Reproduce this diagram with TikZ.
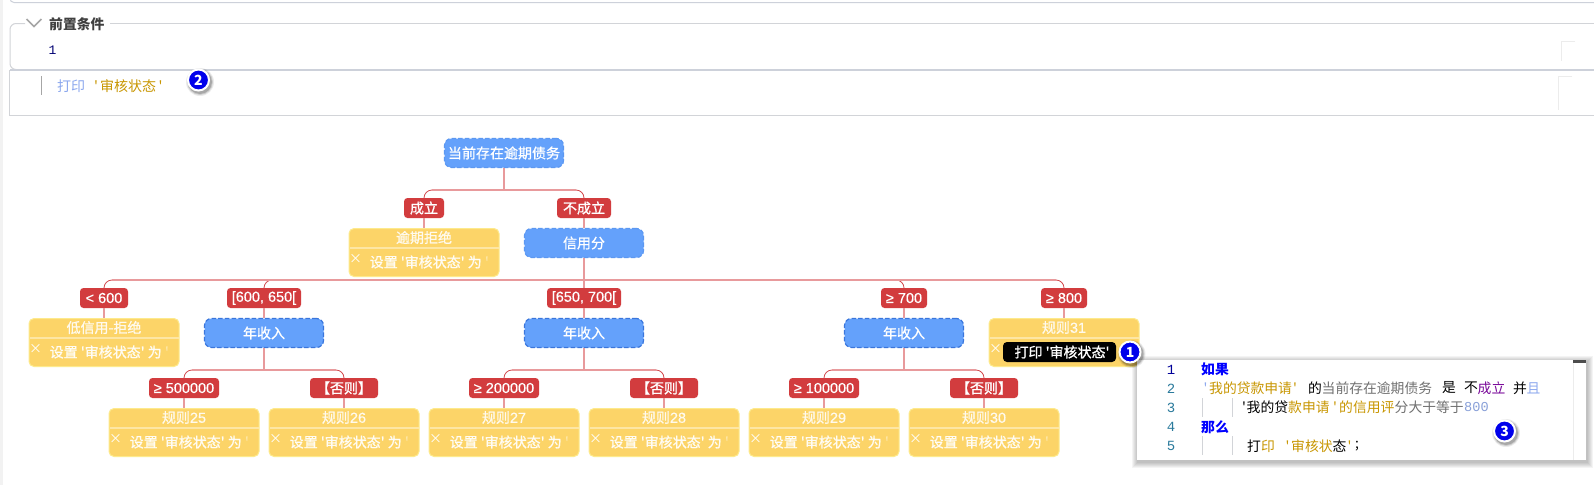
\documentclass[tikz,border=0pt]{standalone}
\usepackage{fontspec}
\newfontfamily\cjk{Noto Sans CJK SC}
\newfontfamily\cjkm{Noto Sans CJK SC}[FakeBold=0.9]
\newfontfamily\latm{Liberation Sans}[FakeBold=0.4]
\newfontfamily\monof{Liberation Mono}
\usetikzlibrary{calc}
\definecolor{busc}{HTML}{E89A9C}
\definecolor{arcc}{HTML}{D2474B}
\definecolor{labc}{HTML}{D23C3E}
\definecolor{bluef}{HTML}{64A1FB}
\definecolor{condA}{HTML}{5C98F2}
\definecolor{condB}{HTML}{3A76DC}
\definecolor{yelf}{HTML}{FCD468}
\definecolor{yeld}{HTML}{FDEA8C}
\definecolor{yeldiv}{HTML}{FDE6A4}
\definecolor{paneline}{HTML}{D2D4D8}
\definecolor{thickline}{HTML}{CDD1DA}
\definecolor{gold}{HTML}{C89600}
\definecolor{lblue}{HTML}{8CA8EE}
\definecolor{graytx}{HTML}{707070}
\definecolor{purp}{HTML}{7A0A9A}
\definecolor{numc}{HTML}{2A7A9C}
\newcommand{\LL}[1]{{\latm\fontsize{14.5}{16}\selectfont #1}}
\tikzset{
  every node/.style={font=\cjkm\fontsize{14}{16}\selectfont},
  cond/.style={rectangle,rounded corners=7pt,fill=bluef,draw=#1,line width=1.2pt,dash pattern=on 4.5pt off 2.2pt,
    minimum width=119pt,minimum height=29pt,inner sep=0pt,text=white},
  cond/.default=condA,
  edgelab/.style={rectangle,rounded corners=3.5pt,fill=labc,text=white,minimum height=20pt,inner sep=0pt},
  rulebox/.style={rectangle,rounded corners=5pt,fill=yelf,draw=yeld,line width=1pt,minimum width=150pt,minimum height=48pt,inner sep=0pt},
  ruletitle/.style={text=white!88!yelf,inner sep=0pt},
  ruleact/.style={text=white!92!yelf,inner sep=0pt,anchor=west},
  cross/.style={text=white,inner sep=0pt,font=\cjk\fontsize{13}{14}\selectfont},
  busline/.style={draw=busc,line width=1.5pt},
  arcline/.style={draw=arcc,line width=.8pt,rounded corners=8pt},
  badge/.style={circle,fill=blue!92!black,draw=white,line width=2pt,minimum size=21pt,inner sep=0pt,text=white,font=\cjk\bfseries\fontsize{14}{16}\selectfont},
  code/.style={anchor=west,inner sep=0pt,font=\cjk\fontsize{13.8}{15}\selectfont},
  codek/.style={anchor=west,inner sep=0pt,text=blue,font=\cjk\bfseries\fontsize{13.8}{15}\selectfont},
  lnum/.style={anchor=center,inner sep=0pt,text=numc,font=\monof\fontsize{14}{15}\selectfont},
  guide/.style={draw=paneline,line width=.8pt},
}
\newcommand{\acttext}{设置 '审核状态' 为 \textcolor{yeldiv}{'}}
% name, centre x, top y, title, action
\newcommand{\rulenode}[5]{%
  \node[rulebox,anchor=north] (#1) at (#2,#3) {};
  \draw[yeldiv,line width=1.4pt] ($(#1.north west)+(1,20)$) -- ($(#1.north east)+(-1,20)$);
  \node[ruletitle] (#1t) at ($(#1.north)+(0,9.5)$) {#4};
  \node[cross] (#1x) at ($(#1.north west)+(7,31)$) {×};
  \ifx\relax#5\relax\else\node[ruleact] (#1a) at ($(#1.north west)+(21,34)$) {#5};\fi
}
\newcommand{\arcto}[2]{%
  \draw[arcline] (#1) -| (#2.north);
}
\newcommand{\shadowcirc}[1]{%
  \foreach \r/\o in {14/.08,13/.12,12/.18}{\fill[black,opacity=\o] ($(#1)+(1.5,2)$) circle (\r pt);}
}
\begin{document}
\begin{tikzpicture}[x=1pt,y=-1pt]
\useasboundingbox (0,0) rectangle (1594,485);
\fill[white] (0,0) rectangle (1594,485);
% page furniture
\fill[gray!10] (0,0) rectangle (3,485);
\draw[thickline,line width=1pt,rounded corners=4pt] (10,-3) -- (10,2.5) -- (1594,2.5);
% first panel
\draw[paneline,line width=1pt,rounded corners=6pt] (25,23.5) -- (10,23.5) -- (10,69.5) -- (30,69.5);
\draw[paneline,line width=1pt] (110,23.5) -- (1594,23.5);
\draw[gray!70,line width=1.5pt] (26.5,19) -- (34,26.5) -- (41.5,19);
\node[anchor=west,inner sep=0pt,text=black!75,font=\cjk\bfseries\fontsize{13.8}{15}\selectfont] (hdr) at (49,24) {前置条件};
\node[inner sep=0pt,text=blue!45!black,font=\monof\fontsize{13}{15}\selectfont] (n1) at (52.5,50.5) {1};
\fill[thickline] (10,69) rectangle (1594,71);
\draw[paneline,line width=.8pt] (9.5,70) -- (9.5,115.5) -- (1594,115.5);
\draw[gray!70,line width=1pt] (41,76) -- (41,95);
\node[anchor=west,inner sep=0pt,text=lblue,font=\cjk\fontsize{14}{16}\selectfont] (p1) at (57,86) {打印};
\node[anchor=west,inner sep=0pt,text=gold,font=\cjk\fontsize{14}{16}\selectfont] (p2a) at (94,86) {'};
\node[anchor=west,inner sep=0pt,text=gold,font=\cjk\fontsize{14}{16}\selectfont] (p2b) at (100,86) {审核状态};
\node[anchor=west,inner sep=0pt,text=gold,font=\cjk\fontsize{14}{16}\selectfont] (p2c) at (158.5,86) {'};
\draw[gray!15,line width=1pt] (1575,41.5) -- (1561.5,41.5) -- (1561.5,61);
\draw[gray!15,line width=1pt] (1572,76.5) -- (1558.5,76.5) -- (1558.5,110);
% tree: nodes
\node[cond=condA] (root) at (504,153) {当前存在逾期债务};
\node[edgelab,minimum width=40pt] (l1) at (424,208) {成立};
\node[edgelab,minimum width=54pt] (l2) at (584,208) {不成立};
\rulenode{r0}{424}{228}{逾期拒绝}{\acttext}
\node[cond=condA] (cs) at (584,243) {信用分};
\node[edgelab,minimum width=48pt] (a1) at (104,298) {\LL{< 600}};
\node[edgelab,minimum width=74pt] (a2) at (264,298) {\LL{[600, 650[}};
\node[edgelab,minimum width=74pt] (a3) at (584,298) {\LL{[650, 700[}};
\node[edgelab,minimum width=46pt] (a4) at (904,298) {\LL{≥ 700}};
\node[edgelab,minimum width=46pt] (a5) at (1064,298) {\LL{≥ 800}};
\rulenode{rl}{104}{318}{低信用-拒绝}{\acttext}
\node[cond=condB] (y1) at (264,333) {年收入};
\node[cond=condB] (y2) at (584,333) {年收入};
\node[cond=condB] (y3) at (904,333) {年收入};
\rulenode{r31}{1064}{318}{规则\LL{31}}{}
\node[rectangle,rounded corners=4pt,fill=black,text=white,minimum width=113pt,minimum height=20pt,inner sep=0pt] (pill) at (1059.5,352) {\hspace*{5pt}打印 '审核状态'};
\node[edgelab,minimum width=70pt] (b1) at (184,388) {\LL{≥ 500000}};
\node[edgelab,minimum width=68pt] (b2) at (344,388) {【否则】};
\node[edgelab,minimum width=70pt] (b3) at (504,388) {\LL{≥ 200000}};
\node[edgelab,minimum width=68pt] (b4) at (664,388) {【否则】};
\node[edgelab,minimum width=70pt] (b5) at (824,388) {\LL{≥ 100000}};
\node[edgelab,minimum width=68pt] (b6) at (984,388) {【否则】};
\rulenode{r25}{184}{408}{规则\LL{25}}{\acttext}
\rulenode{r26}{344}{408}{规则\LL{26}}{\acttext}
\rulenode{r27}{504}{408}{规则\LL{27}}{\acttext}
\rulenode{r28}{664}{408}{规则\LL{28}}{\acttext}
\rulenode{r29}{824}{408}{规则\LL{29}}{\acttext}
\rulenode{r30}{984}{408}{规则\LL{30}}{\acttext}
% junctions
\coordinate (j0) at (504,190);
\coordinate (j1) at (584,280);
\coordinate (j2) at (264,370);
\coordinate (j3) at (584,370);
\coordinate (j4) at (904,370);
% arcs
\arcto{j0}{l1}\arcto{j0}{l2}
\arcto{j1}{a1}\arcto{j1}{a2}\arcto{j1}{a4}\arcto{j1}{a5}
\arcto{j2}{b1}\arcto{j2}{b2}
\arcto{j3}{b3}\arcto{j3}{b4}
\arcto{j4}{b5}\arcto{j4}{b6}
% trunks and buses
\draw[busline] (root.south) -- (j0);
\draw[busline] ($(l1.north|-j0)+(8,0)$) -- ($(l2.north|-j0)+(-8,0)$);
\draw[busline] (l1.south) -- (r0.north);
\draw[busline] (l2.south) -- (cs.north);
\draw[busline] (cs.south) -- (a3.north);
\draw[busline] ($(a1.north|-j1)+(8,0)$) -- ($(a5.north|-j1)+(-8,0)$);
\draw[busline] (a1.south) -- (rl.north);
\draw[busline] (a2.south) -- (y1.north);
\draw[busline] (a3.south) -- (y2.north);
\draw[busline] (a4.south) -- (y3.north);
\draw[busline] (a5.south) -- (r31.north);
\draw[busline] (y1.south) -- (j2);
\draw[busline] (y2.south) -- (j3);
\draw[busline] (y3.south) -- (j4);
\draw[busline] ($(b1.north|-j2)+(8,0)$) -- ($(b2.north|-j2)+(-8,0)$);
\draw[busline] ($(b3.north|-j3)+(8,0)$) -- ($(b4.north|-j3)+(-8,0)$);
\draw[busline] ($(b5.north|-j4)+(8,0)$) -- ($(b6.north|-j4)+(-8,0)$);
\draw[busline] (b1.south) -- (r25.north);
\draw[busline] (b2.south) -- (r26.north);
\draw[busline] (b3.south) -- (r27.north);
\draw[busline] (b4.south) -- (r28.north);
\draw[busline] (b5.south) -- (r29.north);
\draw[busline] (b6.south) -- (r30.north);
% code panel
\foreach \d in {6,5,4,3,2,1}{\fill[black,opacity=.045] (1137-\d+1,360-\d+2) rectangle (1586+\d+1,460+\d+2);}
\fill[white] (1137,360) rectangle (1586,460);
\draw[gray!15,line width=.8pt] (1573,360) -- (1573,460);
\fill[black!70] (1573,360) rectangle (1586,362.5);
\draw[guide] (1202,398) -- (1202,417);
\draw[guide] (1232.5,398) -- (1232.5,417);
\draw[guide] (1202,436) -- (1202,455);
\draw[guide] (1232.5,436) -- (1232.5,455);
\node[lnum,text=blue!60!black] (n11) at (1171,369.5) {1};
\node[lnum] (n12) at (1171,388.5) {2};
\node[lnum] (n13) at (1171,407.5) {3};
\node[lnum] (n14) at (1171,426.5) {4};
\node[lnum] (n15) at (1171,445.5) {5};
\node[codek] (k1) at (1201,369) {如果};
\node[code,text=lblue] (c2a) at (1203.5,388) {'};
\node[code,text=gold] (c2b) at (1209,388) {我的贷款申请};
\node[code,text=gold] (c2b2) at (1293,388) {'};
\node[code,text=black] (c2c) at (1308,388) {的};
\node[code,text=graytx] (c2d) at (1321.5,388) {当前存在逾期债务};
\node[code,text=black] (c2e) at (1442,388) {是};
\node[code,text=black] (c2f) at (1464,388) {不};
\node[code,text=purp] (c2g) at (1477.5,388) {成立};
\node[code,text=black] (c2h) at (1513,388) {并};
\node[code,text=lblue] (c2i) at (1526.5,388) {且};
\node[code,text=black] (c3a) at (1242,407) {'};
\node[code,text=black] (c3a2) at (1246.5,407) {我的贷};
\node[code,text=gold] (c3b) at (1288,407) {款申请};
\node[code,text=gold] (c3c) at (1333,407) {'};
\node[code,text=gold] (c3c2) at (1339,407) {的信用评};
\node[code,text=graytx] (c3d) at (1394.5,407) {分大于等于};
\node[code,text=lblue!80!gray,font=\monof\fontsize{13.6}{15}\selectfont] (c3e) at (1464,407) {800};
\node[codek] (k2) at (1201,427) {那么};
\node[code,text=black] (c5a) at (1247,446) {打};
\node[code,text=gold] (c5b) at (1261,446) {印};
\node[code,text=gold] (c5c) at (1285.5,446) {'};
\node[code,text=gold] (c5c2) at (1291,446) {审核状};
\node[code,text=black] (c5d) at (1332.5,446) {态};
\node[code,text=gold] (c5e) at (1347.5,446) {'};
\node[code,text=black] (c5f) at (1355,446) {;};
% badges
\coordinate (bp1) at (1130,352);
\coordinate (bp2) at (198.5,80);
\coordinate (bp3) at (1504.5,431);
\shadowcirc{bp1}\node[badge] (badge1) at (bp1) {1};
\shadowcirc{bp2}\node[badge] (badge2) at (bp2) {2};
\shadowcirc{bp3}\node[badge] (badge3) at (bp3) {3};
\end{tikzpicture}
\end{document}
